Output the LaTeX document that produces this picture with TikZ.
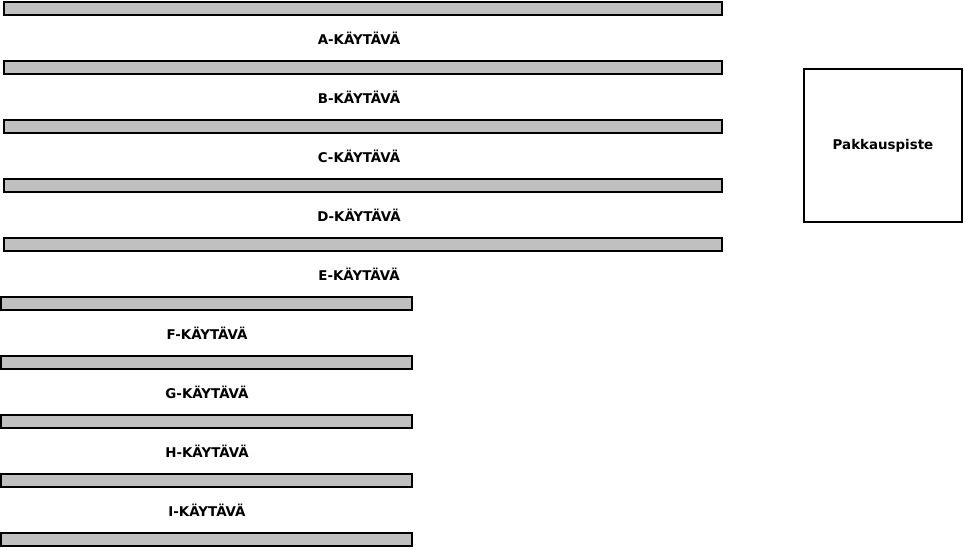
\documentclass[tikz,border=0pt]{standalone}
\usepackage{fontspec}
\setmainfont{DejaVu Sans}
\definecolor{shelfgray}{HTML}{C0C0C0}
\begin{document}
\begin{tikzpicture}[x=1pt,y=-1pt]
    \useasboundingbox (0,0) rectangle (964,549);
    \tikzset{shelf/.style={line width=2pt, fill=shelfgray},
      aisle/.style={font=\bfseries\fontsize{13.4}{16}\selectfont, inner sep=0pt}}
    \foreach \k in {0,...,4}
    \draw[shelf] (4,{2+59*\k}) rectangle (722,{15+59*\k});

    \foreach \k in {5,...,9}
    \draw[shelf] (1,{2+59*\k}) rectangle (412,{15+59*\k});

    \foreach \k/\name in {0/A, 1/B, 2/C, 3/D, 4/E}
    \node[aisle] (aisle\name) at (359,{38+59*\k}) {\name-KÄYTÄVÄ};

    \foreach \k/\name in {5/F, 6/G, 7/H, 8/I}
    \node[aisle] (aisle\name) at (207,{38+59*\k}) {\name-KÄYTÄVÄ};

    \node[draw, line width=2pt, minimum width=158pt, minimum height=153pt,
      font=\bfseries\fontsize{13.4}{16}\selectfont] (packing) at (883,145.5) {Pakkauspiste};
  \end{tikzpicture}
\end{document}
